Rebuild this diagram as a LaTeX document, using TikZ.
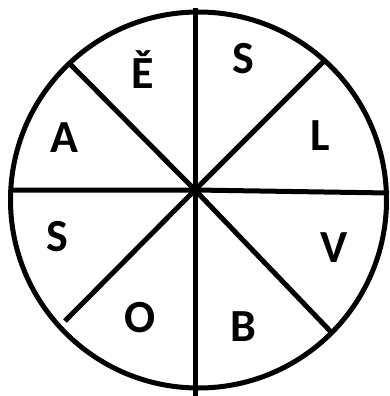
\documentclass[tikz,border=0pt]{standalone}
\usepackage{fontspec}
\setmainfont{Carlito}
\usetikzlibrary{calc}

\begin{document}
\begin{tikzpicture}[x=1pt,y=-1pt,line width=5pt]
  \useasboundingbox (0,0) rectangle (389,396);
  \tikzset{letter/.style={font=\fontsize{46}{46}\selectfont\bfseries,inner sep=0pt}}
  \coordinate (C) at (198.5,200);
  \coordinate (O) at (195,190);
  \coordinate (N) at (195,8);
  \coordinate (S) at (195,396);
  \coordinate (W) at (13,190);
  \coordinate (E) at (389,193);
  \coordinate (NW) at (70,64);
  \coordinate (NE) at (325,60);
  \coordinate (SW) at (65,321);
  \coordinate (SE) at (333,334);
  \draw (C) circle(188);
  \draw (N)--(S);
  \draw (W)--(O)--(E);
  \draw (NW)--(O)--(SE);
  \draw (NE)--(O)--(SW);
  \node[letter] (e) at (143,70) {Ě};
  \node[letter] (s1) at (243,59) {S};
  \node[letter] (l) at (320,136) {L};
  \node[letter] (a) at (64.5,138) {A};
  \node[letter] (s2) at (57.5,237) {S};
  \node[letter] (v) at (334,248) {V};
  \node[letter] (o) at (140.5,318) {O};
  \node[letter] (b) at (243.5,327) {B};
\end{tikzpicture}
\end{document}
